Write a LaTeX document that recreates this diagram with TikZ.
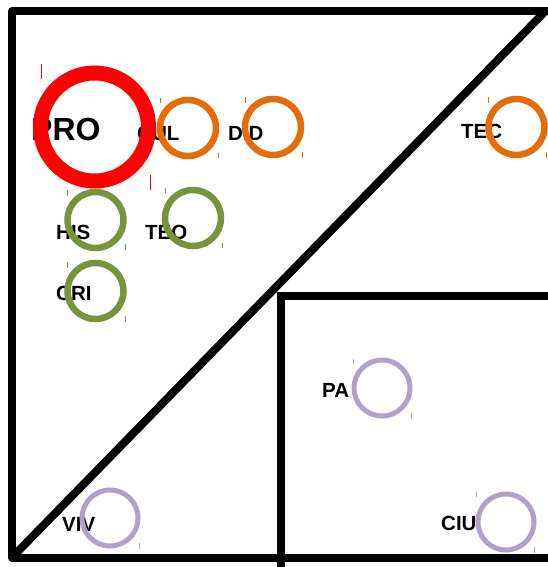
\documentclass[tikz,border=0pt]{standalone}
\usepackage{fontspec}
\setmainfont{Liberation Sans}
\definecolor{cred}{HTML}{FF0000}
\definecolor{corange}{HTML}{E46C0A}
\definecolor{cgreen}{HTML}{77933C}
\definecolor{cpurple}{HTML}{B1A0C7}
\tikzset{
  frame/.style={line width=8pt, black},
  ring/.style={circle, draw, inner sep=0pt, minimum size=56pt, line width=6.5pt},
  lab/.style={anchor=base west, inner sep=0pt, font=\bfseries\fontsize{20.5}{24}\selectfont},
  tickmark/.style={line width=0.9pt},
}
\begin{document}
\begin{tikzpicture}[x=1pt,y=-1pt]
\useasboundingbox (0,0) rectangle (548,567);
\begin{scope}
\clip (0,0) rectangle (548,567);
% outer frame and diagonal
\draw[frame, line join=round] (560,11.5) -- (12,11.5) -- (12,557.5) -- (560,557.5);
\draw[frame, line join=round] (12,557.5) -- (545,11.5);
% inner rectangle
\draw[frame, line join=miter] (580,296) -- (280.5,296) -- (280.5,590);
% labels
\node[lab, font=\bfseries\fontsize{32}{36}\selectfont] (tpro) at (31,140) {PRO};
\node[lab] (tcul) at (137,140) {CUL};
\node[lab] (tdid) at (228,140) {DID};
\node[lab] (ttec) at (461,139) {TEC};
\node[lab] (this) at (56,239) {HIS};
\node[lab] (tteo) at (145,239) {TEO};
\node[lab] (tcri) at (56,300) {CRI};
\node[lab] (tpa) at (322,397) {PA};
\node[lab] (tviv) at (62,531) {VIV};
\node[lab] (tciu) at (441,530) {CIU};
% rings
\node[ring, draw=cred, line width=15pt, minimum size=108pt] (pro) at (94.5,127) {};
\node[ring, draw=corange] (cul) at (188,128) {};
\node[ring, draw=corange] (did) at (273,127) {};
\node[ring, draw=corange] (tec) at (516.5,127) {};
\node[ring, draw=cgreen] (his) at (95.5,220) {};
\node[ring, draw=cgreen] (teo) at (193,218) {};
\node[ring, draw=cgreen] (cri) at (95.5,291) {};
\node[ring, draw=cpurple, line width=5pt] (pa) at (382,388) {};
\node[ring, draw=cpurple, line width=5pt] (viv) at (110,518) {};
\node[ring, draw=cpurple, line width=5pt] (ciu) at (506,522) {};
% small tick marks
\draw[tickmark, cred] (41,64) -- (41,79) (150.5,175) -- (150.5,190);
\draw[tickmark, corange] (160,98) -- (160,103) (218,153) -- (218,158);
\draw[tickmark, corange] (245,97) -- (245,103) (302,152) -- (302,158);
\draw[tickmark, corange] (488,97) -- (488,103) (546,152) -- (546,158);
\draw[tickmark, cgreen] (67,190) -- (67,196) (125,244) -- (125,250);
\draw[tickmark, cgreen] (165,188) -- (165,193) (222,243) -- (222,248);
\draw[tickmark, cgreen] (67,262) -- (67,268) (125,316) -- (125,322);
\draw[tickmark, cpurple] (353,359) -- (353,364) (411,413) -- (411,419);
\draw[tickmark, cpurple] (139,543) -- (139,549);
\draw[tickmark, cpurple] (476,492) -- (476,497) (534,547) -- (534,553);
\end{scope}
\end{tikzpicture}
\end{document}
